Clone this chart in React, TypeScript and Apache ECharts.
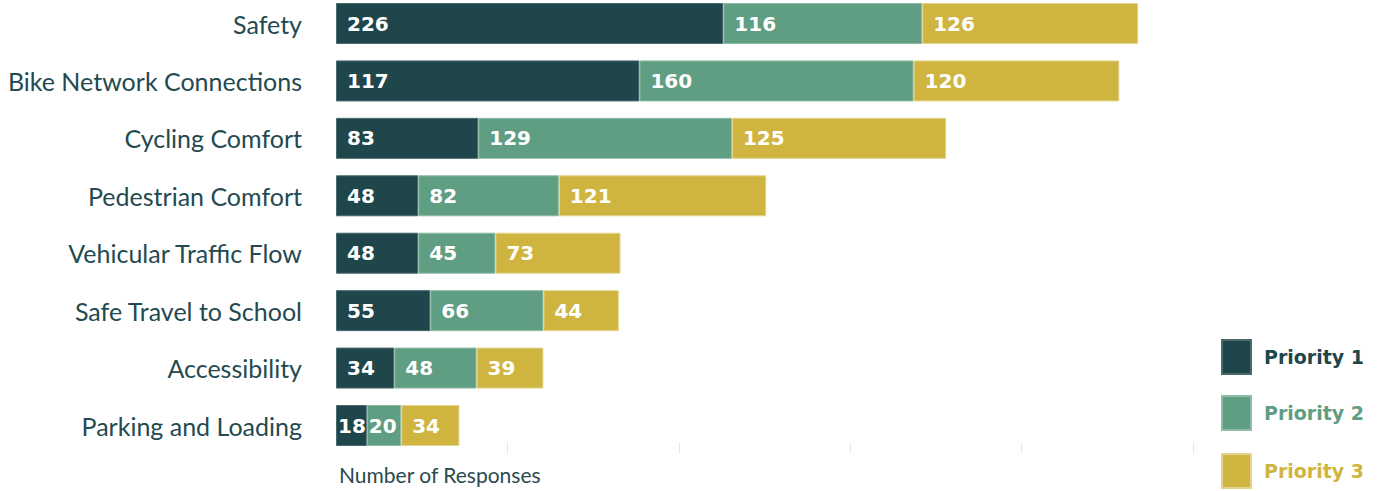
import React, { useEffect, useRef } from "react";
import * as echarts from "echarts";

const categories = [
  "Safety",
  "Bike Network Connections",
  "Cycling Comfort",
  "Pedestrian Comfort",
  "Vehicular Traffic Flow",
  "Safe Travel to School",
  "Accessibility",
  "Parking and Loading",
];
// bar lengths as drawn
const priority1 = [226, 177, 83, 48, 48, 55, 34, 18];
const priority2 = [116, 160, 148, 82, 45, 66, 48, 20];
const priority3 = [126, 120, 125, 121, 73, 44, 39, 34];
// numbers printed on the bars
const priority1Labels = ["226", "117", "83", "48", "48", "55", "34", "18"];
const priority2Labels = ["116", "160", "129", "82", "45", "66", "48", "20"];
const priority3Labels = ["126", "120", "125", "121", "73", "44", "39", "34"];
const seriesNames = ["Priority 1", "Priority 2", "Priority 3"];
const xTicks = [100, 200, 300, 400, 500];

const COLORS = ["#1f464b", "#5f9e82", "#cfb540"];
const BORDERS = ["#4a6a6e", "#8fbca6", "#e3d48e"];
const FONT = "Lato, 'Open Sans', sans-serif";
const BOLD_FONT = "'DejaVu Sans', sans-serif";
const LEGEND_TOPS = [339, 395, 453];

export default function App() {
  const ref = useRef<HTMLDivElement>(null);
  useEffect(() => {
    document.body.style.margin = "0";
    if (!ref.current) return;
    const chart = echarts.init(ref.current, undefined, { renderer: "svg" });
    const values = [priority1, priority2, priority3];
    const labels = [priority1Labels, priority2Labels, priority3Labels];
    chart.setOption({
      animation: false,
      grid: { left: 336, top: 23.5, width: 857, height: 402, containLabel: false },
      legend: seriesNames.map((n, i) => ({
        orient: "vertical",
        left: 1221,
        top: LEGEND_TOPS[i],
        padding: 0,
        itemWidth: 29,
        itemHeight: 34,
        icon: "rect",
        selectedMode: false,
        data: [
          {
            name: n,
            textStyle: {
              color: COLORS[i],
              fontSize: 19,
              fontWeight: "bold",
              fontFamily: BOLD_FONT,
              padding: [0, 0, 0, 8],
            },
          },
        ],
      })),
      xAxis: {
        type: "value",
        min: 0,
        max: 500,
        interval: 100,
        offset: 28,
        axisLine: { show: false },
        axisLabel: { show: false },
        splitLine: { show: false },
        axisTick: {
          show: true,
          inside: true,
          length: 11,
          customValues: xTicks,
          lineStyle: { color: "#e6e6e6", width: 1 },
        },
      },
      yAxis: {
        type: "category",
        data: categories,
        inverse: true,
        boundaryGap: false,
        axisLine: { show: false },
        axisTick: { show: false },
        axisLabel: {
          margin: 34,
          fontSize: 25,
          color: "#234a50",
          fontFamily: FONT,
        },
      },
      graphic: [
        {
          type: "text",
          left: 339,
          top: 464,
          style: {
            text: "Number of Responses",
            fontSize: 21,
            fill: "#2a4a4f",
            fontFamily: FONT,
          },
        },
      ],
      series: seriesNames.map((n, i) => ({
        name: n,
        type: "bar",
        stack: "total",
        barWidth: 41,
        clip: false,
        data: values[i].map((v) => ({
          value: v,
          label: { distance: v < 25 ? 2 : 11 },
        })),
        itemStyle: { color: COLORS[i], borderColor: BORDERS[i], borderWidth: 1 },
        label: {
          show: true,
          position: "insideLeft",
          distance: 11,
          color: "#ffffff",
          fontSize: 20,
          fontWeight: "bold",
          fontFamily: BOLD_FONT,
          formatter: (p: any) => labels[i][p.dataIndex],
        },
      })),
    });
    return () => chart.dispose();
  }, []);
  return <div ref={ref} style={{ width: 1383, height: 491 }} />;
}
